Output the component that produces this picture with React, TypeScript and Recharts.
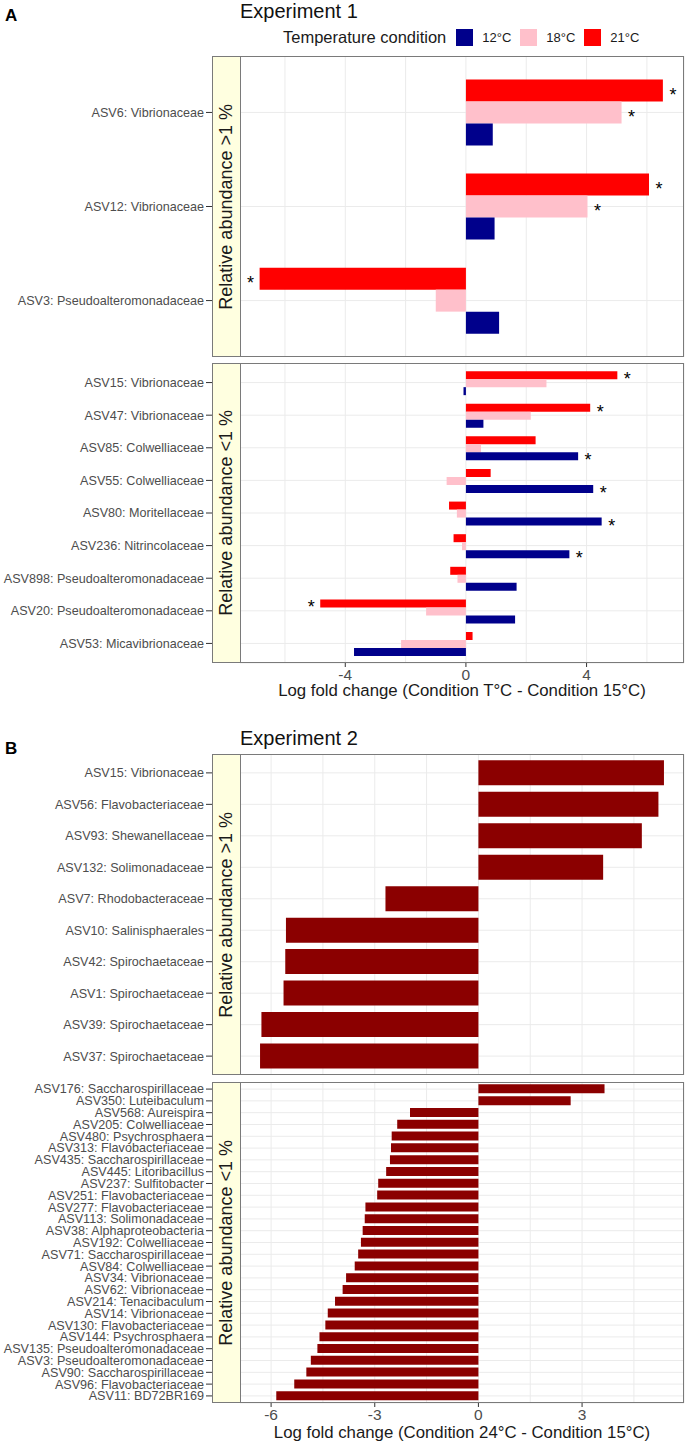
import React from 'react';
import { BarChart, Bar, XAxis, YAxis, CartesianGrid, LabelList } from 'recharts';

// Experiment 1, relative abundance >1 %
const exp1TopTaxa = ['ASV6: Vibrionaceae', 'ASV12: Vibrionaceae', 'ASV3: Pseudoalteromonadaceae'];
const exp1TopLfc12 = [0.89, 0.95, 1.1];
const exp1TopLfc18 = [5.16, 4.03, -1.0];
const exp1TopLfc21 = [6.53, 6.07, -6.84];
const exp1TopSig12 = ['', '', ''];
const exp1TopSig18 = ['*', '*', ''];
const exp1TopSig21 = ['*', '*', '*'];

// Experiment 1, relative abundance <1 %
const exp1LowTaxa = [
  'ASV15: Vibrionaceae',
  'ASV47: Vibrionaceae',
  'ASV85: Colwelliaceae',
  'ASV55: Colwelliaceae',
  'ASV80: Moritellaceae',
  'ASV236: Nitrincolaceae',
  'ASV898: Pseudoalteromonadaceae',
  'ASV20: Pseudoalteromonadaceae',
  'ASV53: Micavibrionaceae',
];
const exp1LowLfc12 = [-0.08, 0.58, 3.72, 4.22, 4.5, 3.43, 1.68, 1.63, -3.71];
const exp1LowLfc18 = [2.67, 2.15, 0.5, -0.64, -0.3, -0.13, -0.28, -1.32, -2.15];
const exp1LowLfc21 = [5.02, 4.12, 2.31, 0.82, -0.56, -0.41, -0.52, -4.83, 0.22];
const exp1LowSig12 = ['', '', '*', '*', '*', '*', '', '', ''];
const exp1LowSig18 = ['', '', '', '', '', '', '', '', ''];
const exp1LowSig21 = ['*', '*', '', '', '', '', '', '*', ''];

// Experiment 2
const exp2TopTaxa = [
  'ASV15: Vibrionaceae',
  'ASV56: Flavobacteriaceae',
  'ASV93: Shewanellaceae',
  'ASV132: Solimonadaceae',
  'ASV7: Rhodobacteraceae',
  'ASV10: Salinisphaerales',
  'ASV42: Spirochaetaceae',
  'ASV1: Spirochaetaceae',
  'ASV39: Spirochaetaceae',
  'ASV37: Spirochaetaceae',
];
const exp2TopLfc = [5.37, 5.21, 4.73, 3.61, -2.69, -5.57, -5.59, -5.64, -6.28, -6.32];

const exp2LowTaxa = [
  'ASV176: Saccharospirillaceae',
  'ASV350: Luteibaculum',
  'ASV568: Aureispira',
  'ASV205: Colwelliaceae',
  'ASV480: Psychrosphaera',
  'ASV313: Flavobacteriaceae',
  'ASV435: Saccharospirillaceae',
  'ASV445: Litoribacillus',
  'ASV237: Sulfitobacter',
  'ASV251: Flavobacteriaceae',
  'ASV277: Flavobacteriaceae',
  'ASV113: Solimonadaceae',
  'ASV38: Alphaproteobacteria',
  'ASV192: Colwelliaceae',
  'ASV71: Saccharospirillaceae',
  'ASV84: Colwelliaceae',
  'ASV34: Vibrionaceae',
  'ASV62: Vibrionaceae',
  'ASV214: Tenacibaculum',
  'ASV14: Vibrionaceae',
  'ASV130: Flavobacteriaceae',
  'ASV144: Psychrosphaera',
  'ASV135: Pseudoalteromonadaceae',
  'ASV3: Pseudoalteromonadaceae',
  'ASV90: Saccharospirillaceae',
  'ASV96: Flavobacteriaceae',
  'ASV11: BD72BR169',
];
const exp2LowLfc = [
  3.65, 2.67, -1.98, -2.35, -2.51, -2.53, -2.56, -2.67, -2.9, -2.93, -3.27, -3.29, -3.35, -3.4,
  -3.48, -3.58, -3.83, -3.93, -4.15, -4.36, -4.43, -4.6, -4.66, -4.85, -4.98, -5.33, -5.85,
];

const exp1Ticks = [-6, -4, -2, 0, 2, 4, 6];
const exp1Majors = [-4, 0, 4];
const exp2Ticks = [-6, -4.5, -3, -1.5, 0, 1.5, 3, 4.5];
const exp2Majors = [-6, -3, 0, 3];

const FONT = '"Liberation Sans", Arial, Helvetica, sans-serif';
const BORDER = '#7a7a7a';
const LEFT = 240;
const RIGHT = 684;

const exp1Top = exp1TopTaxa.map((taxon, i) => ({
  taxon, t12: exp1TopLfc12[i], t18: exp1TopLfc18[i], t21: exp1TopLfc21[i],
}));
const exp1Low = exp1LowTaxa.map((taxon, i) => ({
  taxon, t12: exp1LowLfc12[i], t18: exp1LowLfc18[i], t21: exp1LowLfc21[i],
}));
const exp2Top = exp2TopTaxa.map((taxon, i) => ({ taxon, lfc: exp2TopLfc[i] }));
const exp2Low = exp2LowTaxa.map((taxon, i) => ({ taxon, lfc: exp2LowLfc[i] }));

const YTick = (props: any) => {
  const { x, y, payload } = props;
  return (
    <g>
      <line x1={x - 34} x2={x - 28} y1={y} y2={y} stroke="#333" strokeWidth={1} />
      <text x={x - 36} y={y} dy="0.35em" textAnchor="end" fontSize={12.6} fill="#4d4d4d" fontFamily={FONT}>
        {payload.value}
      </text>
    </g>
  );
};

const makeXTick = (majors: number[]) => (props: any) => {
  const { x, y, payload } = props;
  if (!majors.includes(payload.value)) return <g />;
  return (
    <g>
      <line x1={x} x2={x} y1={y} y2={y + 4} stroke="#333" strokeWidth={1} />
      <text x={x} y={y + 6} dy="0.71em" textAnchor="middle" fontSize={15.5} fill="#4d4d4d" fontFamily={FONT}>
        {payload.value}
      </text>
    </g>
  );
};

const makeStar = (stars: string[]) => (props: any) => {
  const { x, y, width, height, index, value } = props;
  if (!stars[index]) return null;
  const v = Array.isArray(value) ? value[1] : value;
  const end = v >= 0 ? Math.max(x, x + width) : Math.min(x, x + width);
  const cx = end + (v >= 0 ? 10 : -9);
  return (
    <text x={cx} y={y + height / 2 + 10} textAnchor="middle" fontSize={18} fill="#000" fontFamily={FONT}>
      *
    </text>
  );
};

interface PanelProps {
  top: number;
  height: number;
  data: any[];
  children: React.ReactNode;
  domain: [number, number];
  ticks: number[];
  majors: number[];
  gap: string;
  showX: boolean;
  strip: string;
}

const Panel: React.FC<PanelProps> = ({ top, height, data, children, domain, ticks, majors, gap, showX, strip }) => {
  const unit = height / (data.length + 0.2);
  const pad = unit * 0.1;
  const axisH = showX ? 30 : 0;
  return (
    <>
      <div style={{ position: 'absolute', left: 0, top }}>
        <BarChart
          width={685}
          height={height + axisH}
          data={data}
          layout="vertical"
          margin={{ top: 0, right: 685 - RIGHT, bottom: 0, left: 0 }}
          barCategoryGap={gap}
          barGap={0}
        >
          <CartesianGrid stroke="#ebebeb" />
          <XAxis
            type="number"
            domain={domain}
            ticks={ticks}
            interval={0}
            allowDataOverflow
            height={axisH}
            axisLine={false}
            tickLine={false}
            tickSize={0}
            tickMargin={0}
            tick={makeXTick(showX ? majors : [])}
          />
          <YAxis
            type="category"
            dataKey="taxon"
            width={LEFT}
            interval={0}
            padding={{ top: pad, bottom: pad }}
            axisLine={false}
            tickLine={false}
            tickSize={0}
            tickMargin={0}
            tick={YTick}
          />
          {children}
        </BarChart>
      </div>
      <div
        style={{
          position: 'absolute', left: LEFT, top, width: RIGHT - LEFT, height,
          border: `1px solid ${BORDER}`, boxSizing: 'border-box', pointerEvents: 'none',
        }}
      />
      <div
        style={{
          position: 'absolute', left: 212, top, width: 29, height,
          border: `1px solid ${BORDER}`, boxSizing: 'border-box', background: '#FFFFE0',
          display: 'flex', alignItems: 'center', justifyContent: 'center',
        }}
      >
        <div style={{ writingMode: 'vertical-rl', transform: 'rotate(180deg)', fontSize: 18, color: '#1a1a1a', whiteSpace: 'nowrap' }}>
          {strip}
        </div>
      </div>
    </>
  );
};

const Exp1Bars = (sig12: string[], sig18: string[], sig21: string[]) => [
  <Bar key="t21" dataKey="t21" fill="#FF0000" isAnimationActive={false}>
    <LabelList dataKey="t21" content={makeStar(sig21)} />
  </Bar>,
  <Bar key="t18" dataKey="t18" fill="#FFC0CB" isAnimationActive={false}>
    <LabelList dataKey="t18" content={makeStar(sig18)} />
  </Bar>,
  <Bar key="t12" dataKey="t12" fill="#00008B" isAnimationActive={false}>
    <LabelList dataKey="t12" content={makeStar(sig12)} />
  </Bar>,
];

const legendKey = (color: string, label: string, first: boolean) => (
  <div style={{ display: 'flex', alignItems: 'center', marginLeft: first ? 10 : 9 }}>
    <div style={{ width: 17, height: 17, background: color }} />
    <span style={{ fontSize: 13, color: '#1a1a1a', marginLeft: 9 }}>{label}</span>
  </div>
);

export default function App() {
  const exp1Domain: [number, number] = [-7.49, 7.23];
  const exp2Domain: [number, number] = [-6.9, 5.95];
  return (
    <div style={{ position: 'absolute', left: 0, top: 0, width: 685, height: 1444, background: '#fff', fontFamily: FONT }}>
      <div style={{ position: 'absolute', left: 5, top: 6, fontSize: 17, fontWeight: 'bold' }}>A</div>
      <div style={{ position: 'absolute', left: 240, top: 0, fontSize: 20, color: '#111' }}>Experiment 1</div>
      <div style={{ position: 'absolute', left: 283, top: 27, height: 20, display: 'flex', alignItems: 'center' }}>
        <span style={{ fontSize: 16.5, color: '#1a1a1a' }}>Temperature condition</span>
        {legendKey('#00008B', '12°C', true)}
        {legendKey('#FFC0CB', '18°C', false)}
        {legendKey('#FF0000', '21°C', false)}
      </div>

      <Panel top={56} height={301} data={exp1Top} domain={exp1Domain} ticks={exp1Ticks} majors={exp1Majors}
        gap="15%" showX={false} strip="Relative abundance >1 %">
        {Exp1Bars(exp1TopSig12, exp1TopSig18, exp1TopSig21)}
      </Panel>
      <Panel top={363} height={300} data={exp1Low} domain={exp1Domain} ticks={exp1Ticks} majors={exp1Majors}
        gap="15%" showX={true} strip="Relative abundance <1 %">
        {Exp1Bars(exp1LowSig12, exp1LowSig18, exp1LowSig21)}
      </Panel>
      <div style={{ position: 'absolute', left: LEFT, width: RIGHT - LEFT, top: 681, textAlign: 'center', fontSize: 16.8, color: '#1a1a1a' }}>
        Log fold change (Condition T°C - Condition 15°C)
      </div>

      <div style={{ position: 'absolute', left: 5, top: 739, fontSize: 17, fontWeight: 'bold' }}>B</div>
      <div style={{ position: 'absolute', left: 240, top: 727, fontSize: 20, color: '#111' }}>Experiment 2</div>

      <Panel top={754} height={321} data={exp2Top} domain={exp2Domain} ticks={exp2Ticks} majors={exp2Majors}
        gap="10%" showX={false} strip="Relative abundance >1 %">
        <Bar dataKey="lfc" fill="#8B0000" isAnimationActive={false} />
      </Panel>
      <Panel top={1082} height={321} data={exp2Low} domain={exp2Domain} ticks={exp2Ticks} majors={exp2Majors}
        gap="10%" showX={true} strip="Relative abundance <1 %">
        <Bar dataKey="lfc" fill="#8B0000" isAnimationActive={false} />
      </Panel>
      <div style={{ position: 'absolute', left: LEFT, width: RIGHT - LEFT, top: 1423, textAlign: 'center', fontSize: 16.8, color: '#1a1a1a' }}>
        Log fold change (Condition 24°C - Condition 15°C)
      </div>
    </div>
  );
}
